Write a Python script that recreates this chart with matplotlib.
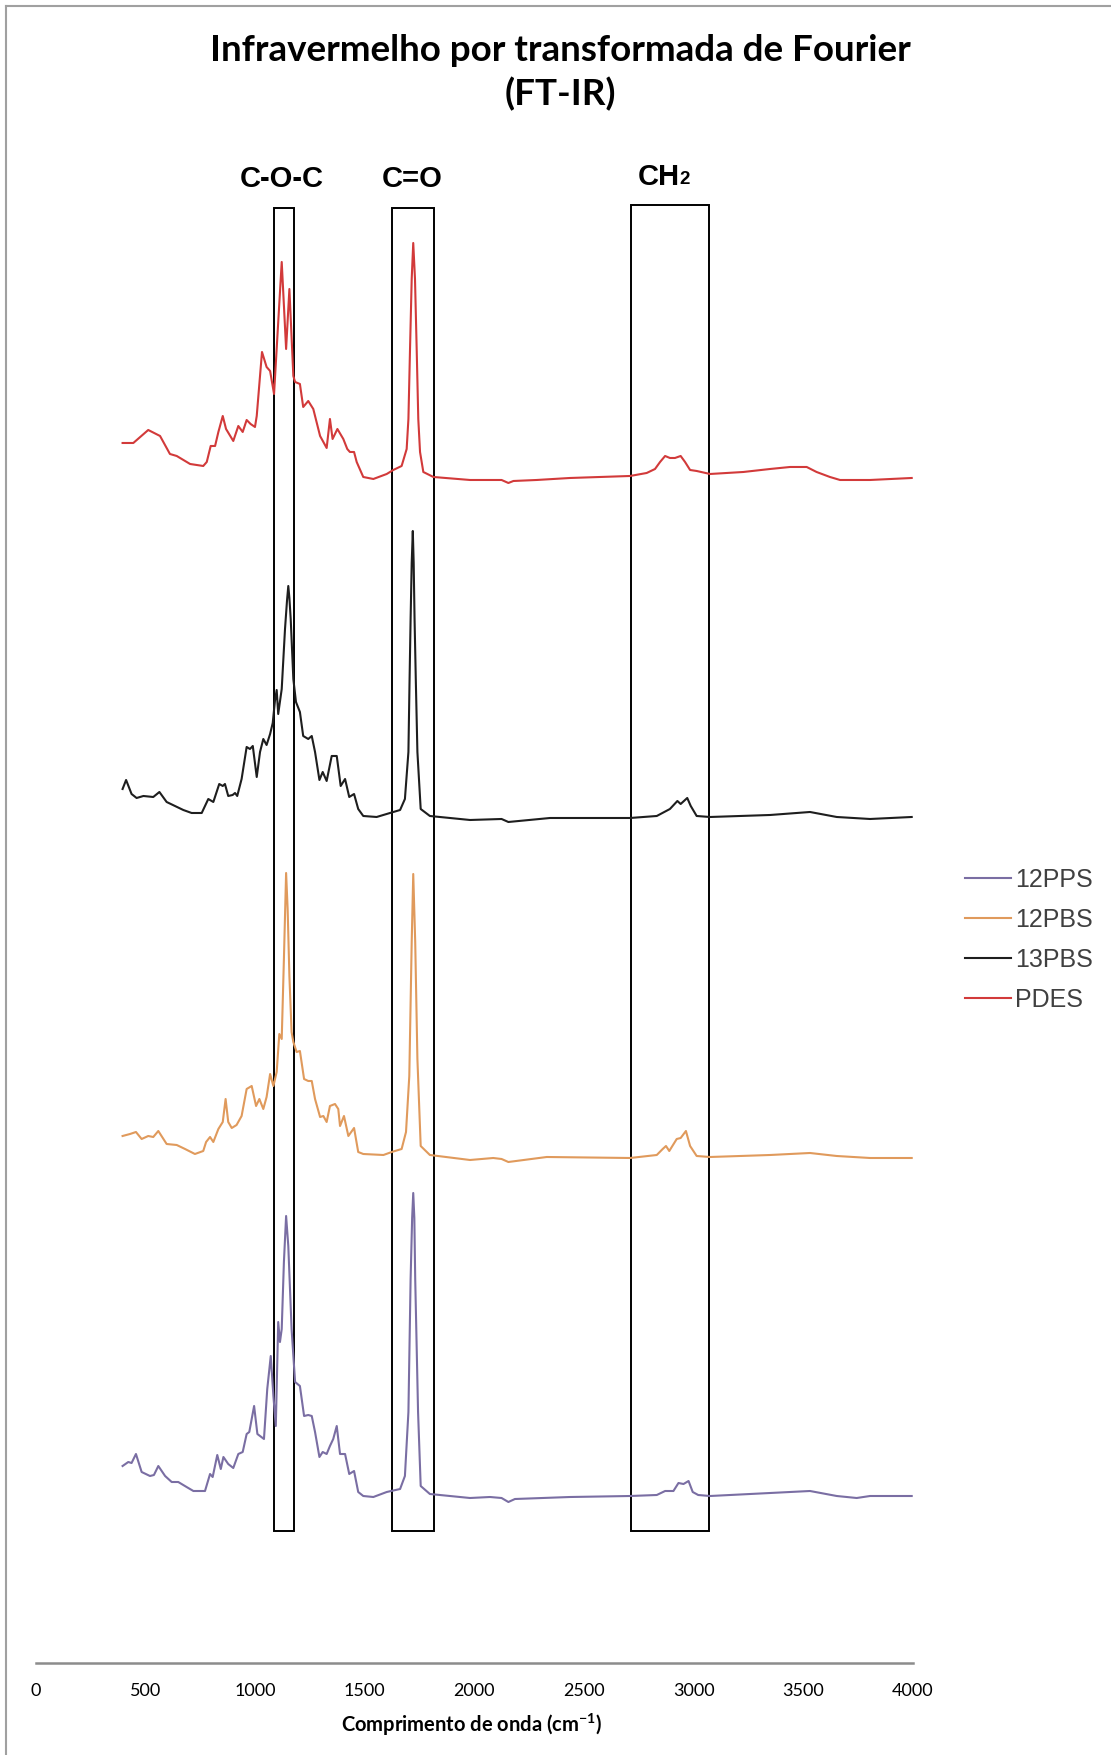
import numpy as np
import matplotlib
matplotlib.use("Agg")
import matplotlib.pyplot as plt
from matplotlib.lines import Line2D
from matplotlib.patches import Rectangle

plt.rcParams['mathtext.fontset'] = 'custom'
plt.rcParams['mathtext.rm'] = 'Lato'
plt.rcParams['mathtext.bf'] = 'Lato:bold'

# FT-IR spectra (wavenumber in cm-1, intensity in a.u., already stacked)
pdes_wn = [395, 444, 512, 566, 611, 642, 703, 763, 779, 797, 817, 832, 852, 867, 900, 923, 943,
           961, 979, 999, 1007, 1031, 1052, 1068, 1086, 1121, 1141, 1156, 1174, 1182, 1204, 1219,
           1242, 1265, 1296, 1326, 1341, 1353, 1375, 1402, 1420, 1432, 1451, 1463, 1493, 1539,
           1600, 1630, 1668, 1691, 1699, 1706, 1714, 1721, 1729, 1737, 1744, 1752, 1767, 1813,
           1980, 2124, 2155, 2178, 2284, 2436, 2710, 2786, 2824, 2847, 2870, 2892, 2915, 2941,
           2961, 2984, 3014, 3075, 3227, 3349, 3440, 3516, 3561, 3622, 3668, 3805, 3995]
pdes_y = [12.20, 12.20, 12.33, 12.27, 12.09, 12.07, 11.99, 11.97, 12.01, 12.17, 12.17, 12.31,
          12.47, 12.34, 12.22, 12.37, 12.31, 12.43, 12.39, 12.36, 12.47, 13.11, 12.96, 12.92,
          12.69, 14.01, 13.14, 13.74, 12.87, 12.81, 12.79, 12.56, 12.62, 12.54, 12.27, 12.15,
          12.44, 12.24, 12.34, 12.24, 12.14, 12.11, 12.11, 12.01, 11.86, 11.84, 11.89, 11.93,
          11.97, 12.14, 12.44, 13.11, 13.84, 14.20, 13.84, 13.11, 12.44, 12.11, 11.91, 11.86,
          11.83, 11.83, 11.80, 11.82, 11.83, 11.85, 11.87, 11.90, 11.94, 12.01, 12.07, 12.05,
          12.05, 12.07, 12.01, 11.93, 11.92, 11.89, 11.91, 11.94, 11.96, 11.96, 11.91, 11.86,
          11.83, 11.83, 11.85]

pbs13_wn = [395, 411, 436, 459, 490, 535, 563, 596, 634, 672, 710, 756, 786, 809, 836, 852, 862,
            877, 897, 908, 918, 938, 961, 976, 989, 1007, 1022, 1037, 1052, 1068, 1080, 1090,
            1098, 1105, 1121, 1136, 1145, 1151, 1156, 1162, 1174, 1186, 1204, 1219, 1242, 1258,
            1273, 1293, 1308, 1326, 1349, 1372, 1390, 1410, 1429, 1451, 1470, 1493, 1554, 1615,
            1661, 1683, 1699, 1704, 1709, 1714, 1719, 1723, 1727, 1733, 1740, 1755, 1797, 1980,
            2124, 2155, 2345, 2710, 2832, 2892, 2926, 2941, 2971, 2987, 3014, 3075, 3349, 3531,
            3653, 3805, 3995]
pbs13_y = [8.74, 8.83, 8.69, 8.65, 8.67, 8.66, 8.71, 8.61, 8.57, 8.53, 8.50, 8.50, 8.64, 8.61,
           8.79, 8.77, 8.79, 8.67, 8.68, 8.70, 8.67, 8.84, 9.16, 9.14, 9.17, 8.86, 9.11, 9.24,
           9.18, 9.29, 9.40, 9.62, 9.73, 9.49, 9.74, 10.34, 10.62, 10.77, 10.65, 10.44, 9.84,
           9.61, 9.51, 9.27, 9.24, 9.27, 9.11, 8.83, 8.91, 8.82, 9.07, 9.07, 8.77, 8.84, 8.66,
           8.69, 8.54, 8.47, 8.46, 8.50, 8.53, 8.64, 9.11, 9.80, 10.44, 11.00, 11.32, 11.00,
           10.44, 9.80, 9.11, 8.54, 8.47, 8.43, 8.44, 8.41, 8.45, 8.45, 8.47, 8.54, 8.62, 8.59,
           8.65, 8.57, 8.47, 8.46, 8.48, 8.51, 8.46, 8.44, 8.46]

pbs12_wn = [395, 429, 456, 482, 512, 535, 558, 596, 642, 680, 725, 763, 776, 794, 809, 832, 852,
            865, 877, 893, 915, 938, 961, 984, 1004, 1019, 1037, 1052, 1068, 1083, 1098, 1110,
            1121, 1131, 1141, 1148, 1156, 1166, 1174, 1189, 1204, 1223, 1242, 1258, 1273, 1296,
            1311, 1326, 1341, 1364, 1379, 1387, 1405, 1425, 1451, 1470, 1493, 1585, 1623, 1668,
            1688, 1703, 1714, 1721, 1730, 1740, 1755, 1797, 1980, 2086, 2124, 2155, 2330, 2710,
            2832, 2859, 2874, 2889, 2923, 2941, 2965, 2984, 3014, 3075, 3349, 3531, 3653, 3805,
            3995]
pbs12_y = [5.27, 5.29, 5.31, 5.24, 5.27, 5.26, 5.32, 5.19, 5.18, 5.14, 5.09, 5.12, 5.21, 5.26,
           5.21, 5.34, 5.41, 5.64, 5.41, 5.35, 5.38, 5.47, 5.74, 5.77, 5.57, 5.64, 5.54, 5.66,
           5.89, 5.77, 5.91, 6.29, 6.24, 7.04, 7.90, 7.54, 6.87, 6.31, 6.21, 6.11, 6.12, 5.84,
           5.82, 5.82, 5.64, 5.46, 5.47, 5.41, 5.57, 5.59, 5.54, 5.37, 5.47, 5.27, 5.35, 5.11,
           5.09, 5.08, 5.11, 5.14, 5.31, 5.87, 7.21, 7.89, 7.21, 6.04, 5.17, 5.08, 5.03, 5.05,
           5.04, 5.01, 5.06, 5.05, 5.08, 5.14, 5.17, 5.12, 5.24, 5.25, 5.32, 5.17, 5.07, 5.06,
           5.08, 5.10, 5.07, 5.05, 5.05]

pps12_wn = [395, 421, 436, 456, 482, 520, 538, 558, 589, 619, 649, 687, 718, 771, 794, 806, 827,
            843, 855, 877, 900, 923, 943, 961, 973, 995, 1010, 1022, 1040, 1055, 1071, 1083,
            1094, 1105, 1113, 1121, 1131, 1141, 1151, 1166, 1182, 1204, 1223, 1242, 1258, 1273,
            1293, 1308, 1326, 1341, 1356, 1372, 1387, 1410, 1429, 1451, 1470, 1493, 1539, 1600,
            1661, 1683, 1699, 1709, 1716, 1721, 1726, 1730, 1743, 1755, 1797, 1980, 2071, 2124,
            2155, 2185, 2436, 2710, 2832, 2870, 2908, 2931, 2954, 2977, 2996, 3021, 3075, 3349,
            3531, 3653, 3744, 3805, 3995]
pps12_y = [1.97, 2.01, 2.00, 2.09, 1.91, 1.87, 1.88, 1.97, 1.87, 1.81, 1.81, 1.76, 1.72, 1.72,
           1.89, 1.86, 2.08, 1.94, 2.06, 1.99, 1.95, 2.09, 2.11, 2.29, 2.31, 2.57, 2.29, 2.27,
           2.24, 2.74, 3.07, 2.67, 2.37, 3.41, 3.21, 3.34, 4.01, 4.47, 4.17, 3.34, 2.81, 2.77,
           2.47, 2.48, 2.47, 2.31, 2.06, 2.11, 2.09, 2.17, 2.24, 2.37, 2.09, 2.09, 1.89, 1.92,
           1.71, 1.67, 1.66, 1.71, 1.74, 1.87, 2.51, 3.84, 4.45, 4.70, 4.45, 3.84, 2.51, 1.77,
           1.69, 1.65, 1.66, 1.65, 1.61, 1.64, 1.66, 1.67, 1.68, 1.72, 1.72, 1.80, 1.79, 1.82,
           1.71, 1.68, 1.67, 1.70, 1.72, 1.67, 1.65, 1.67, 1.67]

series_names = ["12PPS", "12PBS", "13PBS", "PDES"]
colors = ["#7a6ea3", "#e09a5c", "#1e1e1e", "#d23a3a"]

# marked bands: start / end wavenumber
band_lo = [1086, 1626, 2713]
band_hi = [1177, 1817, 3069]

fig = plt.figure(figsize=(11.11, 17.56), dpi=100)
ax = fig.add_axes([0.0324, 0.05239, 0.7892, 0.8622])

data = [(pps12_wn, pps12_y), (pbs12_wn, pbs12_y), (pbs13_wn, pbs13_y), (pdes_wn, pdes_y)]
for (wn, y), name, c in zip(data, series_names, colors):
    ax.plot(wn, y, color=c, lw=1.5, label=name)

# boxes around the bands
box_bottom = 1.32
box_tops = [14.55, 14.55, 14.58]
for lo, hi, top in zip(band_lo, band_hi, box_tops):
    ax.add_patch(Rectangle((lo, box_bottom), hi - lo, top - box_bottom,
                           fill=False, ec="black", lw=1.4))

ax.text(1122, 14.85, "C-O-C", ha="center", va="center", fontsize=21,
        fontweight="bold", family="Liberation Sans")
ax.text(1715, 14.85, "C=O", ha="center", va="center", fontsize=21,
        fontweight="bold", family="Liberation Sans")
t = ax.text(2745, 14.87, "CH", ha="left", va="center", fontsize=21,
            fontweight="bold", family="Liberation Sans")
ax.annotate("2", xy=(1, 0.12), xycoords=t, ha="left", va="bottom", fontsize=13.5,
            fontweight="bold", family="Liberation Sans")

ax.set_xlim(0, 4000)
ax.set_ylim(0, 15.14)
ax.set_xticks(np.arange(0, 4001, 500))
ax.set_yticks([])
for s in ["left", "top", "right"]:
    ax.spines[s].set_visible(False)
ax.spines["bottom"].set_color("#8c8c8c")
ax.spines["bottom"].set_linewidth(1.8)
ax.tick_params(axis="x", length=0, pad=14, labelsize=13)
for lab in ax.get_xticklabels():
    lab.set_family("Lato")
ax.patch.set_alpha(0)

fig.text(0.4248, 0.0177, r"Comprimento de onda (cm$^{\mathbf{-1}}$)", ha="center", va="center",
         fontsize=14.5, fontweight="bold", family="Lato")

fig.text(0.504, 0.9712, "Infravermelho por transformada de Fourier", ha="center", va="center",
         fontsize=26.5, fontweight="bold", family="Lato")
fig.text(0.504, 0.9462, "(FT-IR)", ha="center", va="center",
         fontsize=26.5, fontweight="bold", family="Lato")

leg = fig.legend(loc="upper left", bbox_to_anchor=(0.8686, 0.5055), frameon=False,
                 fontsize=18, handlelength=1.84, handletextpad=0.17, labelspacing=0.64,
                 borderpad=0, borderaxespad=0)
for txt in leg.get_texts():
    txt.set_family("Liberation Sans")
    txt.set_color("#404040")

# outer chart frame (top and left edges visible)
fig.add_artist(Line2D([6 / 1111, 1], [1 - 7 / 1756, 1 - 7 / 1756], transform=fig.transFigure,
                      color="#a0a0a0", lw=1.5))
fig.add_artist(Line2D([6 / 1111, 6 / 1111], [0, 1 - 7 / 1756], transform=fig.transFigure,
                      color="#a0a0a0", lw=1.5))

fig.savefig("out.png", dpi=100, facecolor="white")
